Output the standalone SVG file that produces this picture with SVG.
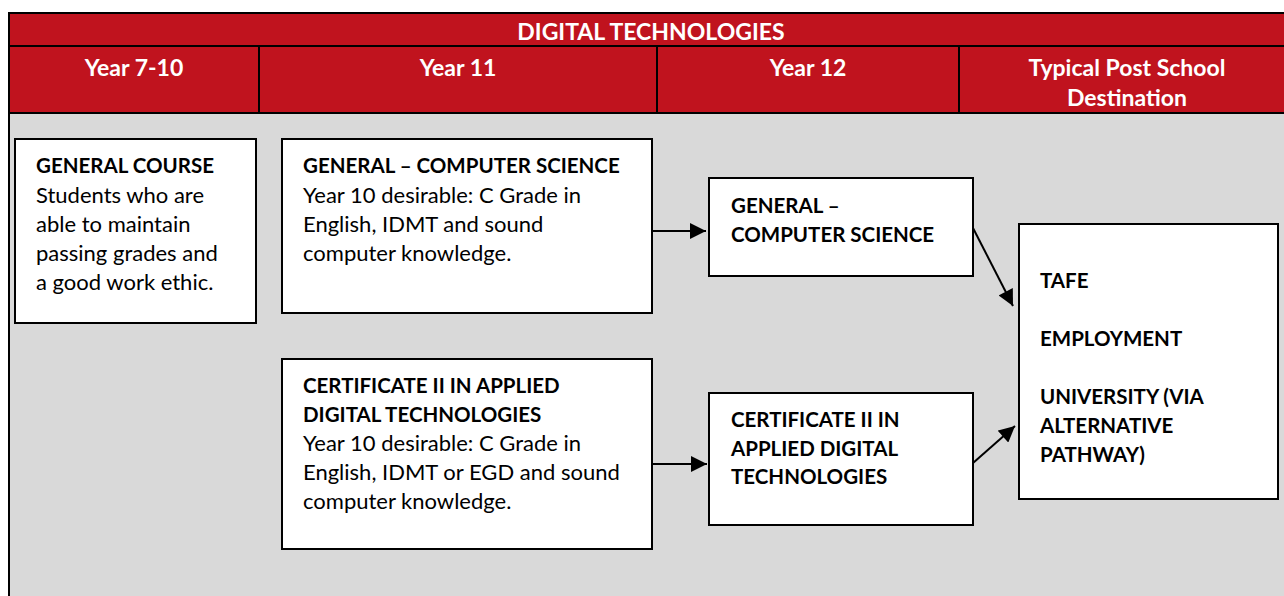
<svg xmlns="http://www.w3.org/2000/svg" width="1284" height="596" viewBox="0 0 1284 596">
<style>
  .hdr { fill: #C0131E; }
  .grid { stroke: #000; stroke-width: 2; fill: none; }
  .htxt { font-family: Lato, "Liberation Sans", sans-serif; font-weight: bold; font-size: 23px; fill: #fff; text-anchor: middle; }
  .box { fill: #fff; stroke: #000; stroke-width: 2; }
  .t { font-family: Lato, "Liberation Sans", sans-serif; font-size: 22px; fill: #000; }
  .b { font-weight: bold; font-size: 20.5px; }
  .conn { stroke: #000; stroke-width: 2; fill: none; marker-end: url(#arrow); }
</style>
<defs>
  <marker id="arrow" viewBox="0 0 10 10" refX="10" refY="5" markerWidth="8.5" markerHeight="8" markerUnits="strokeWidth" orient="auto">
    <path d="M0,0 L10,5 L0,10 Z" fill="#000"/>
  </marker>
</defs>
<rect x="0" y="0" width="1284" height="596" fill="#fff"/>
<g id="table">
  <rect x="9" y="13" width="1290" height="101" class="hdr"/>
  <rect x="9" y="114" width="1290" height="490" fill="#D9D9D9"/>
  <path class="grid" d="M9,600 L9,13 L1300,13 M9,46 L1300,46 M9,113 L1300,113 M259,46 L259,113 M657,46 L657,113 M959,46 L959,113"/>
  <text class="htxt" x="651" y="40">DIGITAL TECHNOLOGIES</text>
  <text class="htxt" x="134" y="76">Year 7-10</text>
  <text class="htxt" x="458" y="76">Year 11</text>
  <text class="htxt" x="808" y="76">Year 12</text>
  <text class="htxt" x="1127" y="76">Typical Post School</text>
  <text class="htxt" x="1127" y="106">Destination</text>
</g>
<g id="general-course">
  <rect class="box" x="15" y="139" width="241" height="184"/>
  <text class="t"><tspan class="b" x="36" y="173">GENERAL COURSE</tspan><tspan x="36" y="202.5">Students who are</tspan><tspan x="36" y="231.5">able to maintain</tspan><tspan x="36" y="260.5">passing grades and</tspan><tspan x="36" y="289.5">a good work ethic.</tspan></text>
</g>
<g id="y11-general-cs">
  <rect class="box" x="282" y="139" width="370" height="174"/>
  <text class="t"><tspan class="b" x="303" y="173">GENERAL – COMPUTER SCIENCE</tspan><tspan x="303" y="202.5">Year 10 desirable: C Grade in</tspan><tspan x="303" y="231.5">English, IDMT and sound</tspan><tspan x="303" y="260.5">computer knowledge.</tspan></text>
</g>
<g id="y12-general-cs">
  <rect class="box" x="709" y="178" width="264" height="98"/>
  <text class="t b"><tspan x="731" y="213">GENERAL –</tspan><tspan x="731" y="242">COMPUTER SCIENCE</tspan></text>
</g>
<g id="y11-cert">
  <rect class="box" x="282" y="359" width="370" height="190"/>
  <text class="t"><tspan class="b" x="303" y="393">CERTIFICATE II IN APPLIED</tspan><tspan class="b" x="303" y="422">DIGITAL TECHNOLOGIES</tspan><tspan x="303" y="451">Year 10 desirable: C Grade in</tspan><tspan x="303" y="480">English, IDMT or EGD and sound</tspan><tspan x="303" y="509">computer knowledge.</tspan></text>
</g>
<g id="y12-cert">
  <rect class="box" x="709" y="393" width="264" height="132"/>
  <text class="t b"><tspan x="731" y="427">CERTIFICATE II IN</tspan><tspan x="731" y="456">APPLIED DIGITAL</tspan><tspan x="731" y="484">TECHNOLOGIES</tspan></text>
</g>
<g id="destination">
  <rect class="box" x="1019" y="224" width="259" height="275"/>
  <text class="t b"><tspan x="1040" y="288">TAFE</tspan><tspan x="1040" y="346">EMPLOYMENT</tspan><tspan x="1040" y="404">UNIVERSITY (VIA</tspan><tspan x="1040" y="433">ALTERNATIVE</tspan><tspan x="1040" y="462">PATHWAY)</tspan></text>
</g>
<g id="connectors">
  <line class="conn" x1="652" y1="231" x2="706" y2="231"/>
  <line class="conn" x1="973" y1="228" x2="1013" y2="306"/>
  <line class="conn" x1="652" y1="464" x2="707" y2="464"/>
  <line class="conn" x1="973" y1="463" x2="1015" y2="426"/>
</g>
</svg>
